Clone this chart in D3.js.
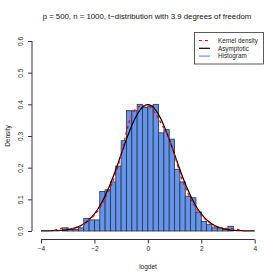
<!DOCTYPE html>
<html>
<head>
<meta charset="utf-8">
<script src="https://cdn.jsdelivr.net/npm/d3@7"></script>
<style>
  body { margin: 0; background: #fff; }
  text { font-family: "Liberation Sans", Arial, sans-serif; }
</style>
</head>
<body>
<svg id="canvas"></svg>
<script>
var width = 280,
	height = 280;

// histogram bins (0.2 wide), left edges and densities
var binStart = [-3.2, -3.0, -2.8, -2.6, -2.4, -2.2, -2.0, -1.8, -1.6, -1.4, -1.2, -1.0, -0.8, -0.6, -0.4, -0.2,
	0.0, 0.2, 0.4, 0.6, 0.8, 1.0, 1.2, 1.4, 1.6, 1.8, 2.0, 2.2, 2.4, 2.6, 2.8, 3.0];
var binDensity = [0.01, 0.005, 0.005, 0.01, 0.04, 0.035, 0.035, 0.125, 0.13, 0.155, 0.205, 0.285, 0.38, 0.38, 0.40, 0.39,
	0.395, 0.40, 0.31, 0.32, 0.29, 0.195, 0.155, 0.11, 0.105, 0.06, 0.03, 0.02, 0.01, 0.01, 0.005, 0.015];
var binWidth = 0.2;

// kernel density
var kdX = [-3.5, -3.25, -3.0, -2.75, -2.5, -2.25, -2.0, -1.75, -1.5, -1.25, -1.0, -0.75, -0.5, -0.25,
	0.0, 0.25, 0.5, 0.75, 1.0, 1.25, 1.5, 1.75, 2.0, 2.25, 2.5, 2.75, 3.0, 3.25, 3.5, 3.75];
var kdY = [0.002, 0.008, 0.008, 0.007, 0.015, 0.032, 0.05, 0.08, 0.12, 0.17, 0.24, 0.33, 0.38, 0.395,
	0.395, 0.375, 0.34, 0.30, 0.24, 0.17, 0.12, 0.08, 0.05, 0.03, 0.015, 0.009, 0.008, 0.006, 0.002, 0.0];

// asymptotic curve
var asX = [-4, -3.75, -3.5, -3.25, -3, -2.75, -2.5, -2.25, -2, -1.75, -1.5, -1.25, -1, -0.75, -0.5, -0.25,
	0, 0.25, 0.5, 0.75, 1, 1.25, 1.5, 1.75, 2, 2.25, 2.5, 2.75, 3, 3.25, 3.5, 3.75, 4];
var asY = [0.0001, 0.0004, 0.0009, 0.002, 0.0044, 0.0091, 0.0175, 0.0317, 0.054, 0.0863, 0.1295, 0.1826, 0.242, 0.3011, 0.3521, 0.3867,
	0.3989, 0.3867, 0.3521, 0.3011, 0.242, 0.1826, 0.1295, 0.0863, 0.054, 0.0317, 0.0175, 0.0091, 0.0044, 0.002, 0.0009, 0.0004, 0.0001];

var xTicks = [-4, -2, 0, 2, 4];
var yTicks = [0.0, 0.1, 0.2, 0.3, 0.4, 0.5, 0.6];
var legendLabels = ["Kernel density", "Asymptotic", "Histogram"];
var legendColors = ["red", "black", "cornflowerblue"];
var legendDash = ["3,3", null, null];

var svg = d3.select("#canvas")
	.attr("width", width)
	.attr("height", height);

var x = d3.scaleLinear().domain([-4, 4]).range([41, 254.7]);
var y = d3.scaleLinear().domain([0, 0.6]).range([231, 41]);

// histogram
svg.selectAll("rect.bar")
	.data(binStart)
	.enter()
	.append("rect")
	.attr("class", "bar")
	.attr("x", function(d){ return x(d); })
	.attr("width", function(d){ return x(d + binWidth) - x(d); })
	.attr("y", function(d, i){ return y(binDensity[i]); })
	.attr("height", function(d, i){ return y(0) - y(binDensity[i]); })
	.attr("fill", "cornflowerblue")
	.attr("stroke", "#2b2f3a")
	.attr("stroke-width", 0.8);

var line = d3.line()
	.x(function(d){ return x(d[0]); })
	.y(function(d){ return y(d[1]); })
	.curve(d3.curveMonotoneX);

svg.append("path")
	.datum(d3.zip(asX, asY))
	.attr("d", line)
	.attr("fill", "none")
	.attr("stroke", "black")
	.attr("stroke-width", 1.2);

svg.append("path")
	.datum(d3.zip(kdX, kdY))
	.attr("d", line)
	.attr("fill", "none")
	.attr("stroke", "red")
	.attr("stroke-width", 1.3)
	.attr("stroke-dasharray", "3,3");

// axes, R style
var xAxis = svg.append("g")
	.attr("transform", "translate(0,239.5)")
	.call(d3.axisBottom(x).tickValues(xTicks).tickSize(4).tickPadding(3)
		.tickFormat(function(d){ return d < 0 ? "\u2212" + Math.abs(d) : d; }));
xAxis.select(".domain").attr("d", "M" + x(-4) + ",0H" + x(4)).attr("stroke", "#333");
xAxis.selectAll("line").attr("stroke", "#333");
xAxis.selectAll("text").attr("font-size", 6.5).attr("fill", "#222")
	.attr("font-family", "Liberation Sans, Arial, sans-serif");

var yAxis = svg.append("g")
	.attr("transform", "translate(32,0)")
	.call(d3.axisLeft(y).tickValues(yTicks).tickSize(4).tickFormat(d3.format(".1f")));
yAxis.select(".domain").attr("d", "M0," + y(0) + "V" + y(0.6)).attr("stroke", "#333");
yAxis.selectAll("line").attr("stroke", "#333");
yAxis.selectAll("text")
	.attr("font-size", 6.5)
	.attr("fill", "#222")
	.attr("font-family", "Liberation Sans, Arial, sans-serif")
	.attr("x", null).attr("dy", null)
	.attr("text-anchor", "middle")
	.attr("transform", "translate(-9,0) rotate(-90)");

// titles
svg.append("text")
	.attr("x", 147).attr("y", 18.5)
	.attr("text-anchor", "middle")
	.attr("font-size", 7.8)
	.attr("fill", "#111")
	.text("p = 500, n = 1000, t\u2212distribution with 3.9 degrees of freedom");

svg.append("text")
	.attr("x", 148).attr("y", 269)
	.attr("text-anchor", "middle")
	.attr("font-size", 6.5)
	.attr("fill", "#222")
	.text("logdet");

svg.append("text")
	.attr("transform", "translate(10,136) rotate(-90)")
	.attr("text-anchor", "middle")
	.attr("font-size", 6.5)
	.attr("fill", "#222")
	.text("Density");

// legend
var legend = svg.append("g");
legend.append("rect")
	.attr("x", 194.5).attr("y", 32.5)
	.attr("width", 69).attr("height", 31.5)
	.attr("fill", "white")
	.attr("stroke", "#333")
	.attr("stroke-width", 0.8);

var entry = legend.selectAll("g.entry")
	.data(legendLabels)
	.enter()
	.append("g")
	.attr("class", "entry")
	.attr("transform", function(d, i){ return "translate(0," + (40.5 + i * 7.8) + ")"; });

entry.append("line")
	.attr("x1", 199).attr("x2", 210)
	.attr("stroke", function(d, i){ return legendColors[i]; })
	.attr("stroke-width", 1.2)
	.attr("stroke-dasharray", function(d, i){ return legendDash[i]; });

entry.append("text")
	.attr("x", 218).attr("y", 2.3)
	.attr("font-size", 6.3)
	.attr("fill", "#222")
	.text(function(d){ return d; });
</script>
</body>
</html>
